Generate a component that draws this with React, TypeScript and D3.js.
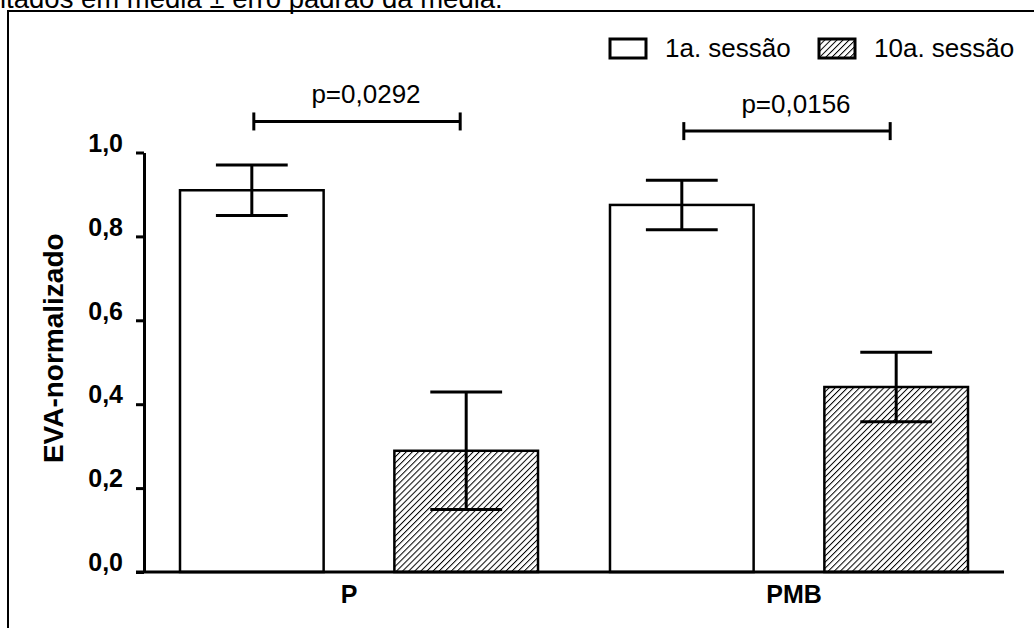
import React, { useEffect, useRef } from 'react';
import * as d3 from 'd3';

// EVA normalizado, 1a. vs 10a. sessão (média ± erro padrão)
const categories = ['P', 'PMB'];
const sessions = ['1a. sessão', '10a. sessão'];
const meanFirst = [0.91, 0.875];
const semFirst = [0.06, 0.059];
const meanTenth = [0.289, 0.441];
const semTenth = [0.14, 0.083];
const pLabels = ['p=0,0292', 'p=0,0156'];
const bracketLevel = [1.074, 1.051];
const yTicks = [0, 0.2, 0.4, 0.6, 0.8, 1.0];
const caption = 'ltados em média ± erro padrão da média.';

const W = 1034;
const H = 628;
const FONT = 'Liberation Sans, Arial, sans-serif';

function App() {
  const axisRef = useRef<SVGGElement>(null);

  const y = d3.scaleLinear().domain([0, 1]).range([572, 152.5]);
  const x = d3.scaleBand().domain(categories).range([180, 968]).paddingInner(0.1674).paddingOuter(0);
  const xs = d3.scaleBand().domain(sessions).range([0, x.bandwidth()]).paddingInner(0.33);

  const comma = d3.formatLocale({ decimal: ',', thousands: '.', grouping: [3], currency: ['', ''] }).format('.1f');

  useEffect(() => {
    if (!axisRef.current) return;
    const g = d3.select(axisRef.current);
    g.selectAll('*').remove();
    g.call(
      d3.axisLeft(y).tickValues(yTicks).tickSize(8).tickSizeOuter(0).tickPadding(13)
        .tickFormat(d => comma(d as number))
    );
    g.select('.domain').attr('stroke', '#000').attr('stroke-width', 3);
    g.selectAll('.tick line').attr('stroke', '#000').attr('stroke-width', 3);
    g.selectAll('.tick text')
      .attr('fill', '#000')
      .attr('font-family', FONT)
      .attr('font-size', 25)
      .attr('font-weight', 'bold')
      .attr('dy', '-0.05em');
  }, []);

  const bars = categories.flatMap((c, i) => [
    { cat: c, s: sessions[0], mean: meanFirst[i], sem: semFirst[i] },
    { cat: c, s: sessions[1], mean: meanTenth[i], sem: semTenth[i] },
  ]);
  const bx = (c: string, s: string) => (x(c) as number) + (xs(s) as number);
  const bw = xs.bandwidth();
  const capHalf = bw / 4;

  return (
    <svg width={W} height={H} style={{ position: 'absolute', left: 0, top: 0, background: '#fff' }}>
      <defs>
        <pattern id="hatch" width="4.3" height="4.3" patternUnits="userSpaceOnUse" patternTransform="rotate(45)">
          <rect width="4.3" height="4.3" fill="#fff" />
          <line x1="0" y1="0" x2="0" y2="4.3" stroke="#000" strokeWidth="2" />
        </pattern>
      </defs>

      <text x={0} y={7.5} fontFamily={FONT} fontSize={27.5} fill="#000">{caption}</text>
      <path d={`M8,${H}V11H${W}`} fill="none" stroke="#000" strokeWidth={2} />

      {/* legend */}
      {sessions.map((s, i) => (
        <g key={s} transform={`translate(${i === 0 ? 610 : 819},39)`}>
          <rect x={0} y={0} width={36} height={19} fill={i === 0 ? '#fff' : 'url(#hatch)'} stroke="#000" strokeWidth={3} />
          <text x={55} y={18} fontFamily={FONT} fontSize={26} fill="#000">{s}</text>
        </g>
      ))}

      {/* bars */}
      {bars.map(b => (
        <rect key={b.cat + b.s} x={bx(b.cat, b.s)} y={y(b.mean)} width={bw} height={y(0) - y(b.mean)}
          fill={b.s === sessions[0] ? '#fff' : 'url(#hatch)'} stroke="#000" strokeWidth={2.5} />
      ))}

      {/* error bars */}
      {bars.map(b => {
        const cx = bx(b.cat, b.s) + bw / 2;
        return (
          <g key={'e' + b.cat + b.s} stroke="#000" strokeWidth={3}>
            <line x1={cx} x2={cx} y1={y(b.mean + b.sem)} y2={y(b.mean - b.sem)} />
            <line x1={cx - capHalf} x2={cx + capHalf} y1={y(b.mean + b.sem)} y2={y(b.mean + b.sem)} />
            <line x1={cx - capHalf} x2={cx + capHalf} y1={y(b.mean - b.sem)} y2={y(b.mean - b.sem)} />
          </g>
        );
      })}

      {/* axes */}
      <line x1={136} x2={1004} y1={y(0)} y2={y(0)} stroke="#000" strokeWidth={3} />
      <g ref={axisRef} transform="translate(144,0)" />
      <text transform={`translate(63,${(y(0) + y(1)) / 2 - 14}) rotate(-90)`} textAnchor="middle"
        fontFamily={FONT} fontSize={28} fontWeight="bold" fill="#000">EVA-normalizado</text>

      {categories.map((c, i) => (
        <text key={c} x={(x(c) as number) + x.bandwidth() / 2} dx={i === 0 ? -10 : 5} y={603} textAnchor="middle"
          fontFamily={FONT} fontSize={25} fontWeight="bold" fill="#000">{c}</text>
      ))}

      {/* significance brackets */}
      {categories.map((c, i) => {
        const x1 = bx(c, sessions[0]) + bw / 2 + 2;
        const x2 = bx(c, sessions[1]) + bw / 2 - 6;
        const yy = y(bracketLevel[i]);
        return (
          <g key={'p' + c}>
            <g stroke="#000" strokeWidth={3}>
              <line x1={x1} x2={x2} y1={yy} y2={yy} />
              <line x1={x1} x2={x1} y1={yy - 9} y2={yy + 9} />
              <line x1={x2} x2={x2} y1={yy - 9} y2={yy + 9} />
            </g>
            <text x={(x1 + x2) / 2 + 9} y={yy - 18} textAnchor="middle" fontFamily={FONT} fontSize={26} fill="#000">
              {pLabels[i]}
            </text>
          </g>
        );
      })}
    </svg>
  );
}

export default App;
